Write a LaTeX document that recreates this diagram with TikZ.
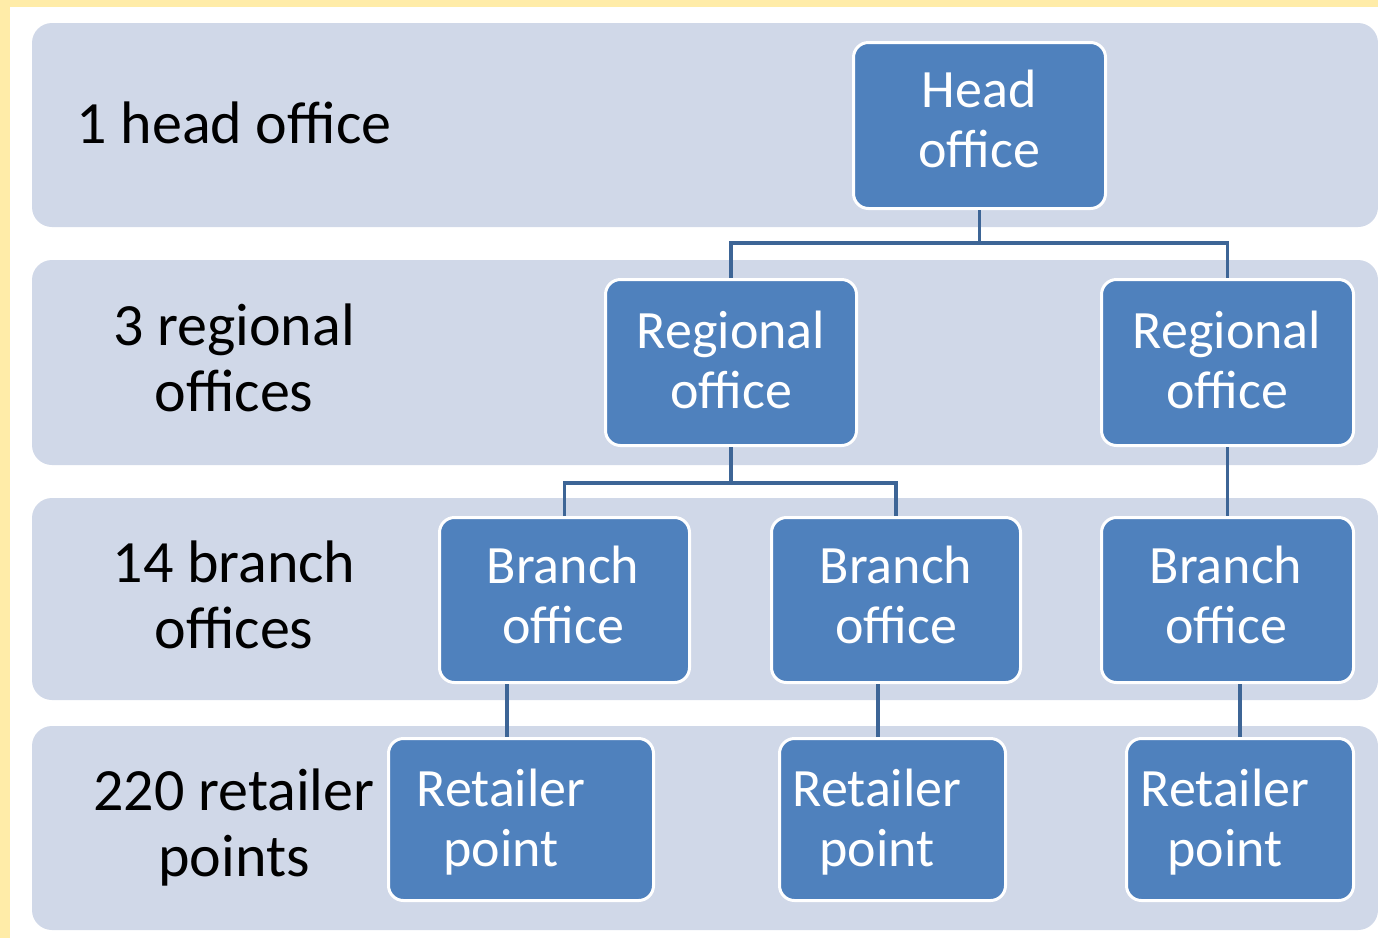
\documentclass[tikz,border=0pt]{standalone}
\usepackage{fontspec}
\setmainfont{Carlito}
\definecolor{framey}{HTML}{FFECA8}
\definecolor{bandc}{HTML}{D0D8E8}
\definecolor{boxblue}{HTML}{4F81BD}
\definecolor{linkblue}{HTML}{3D6596}
\begin{document}
\begin{tikzpicture}[x=1pt,y=-1pt,
  bandbox/.style={fill=bandc, rounded corners=20pt},
  orgbox/.style={draw=white, line width=3pt, fill=boxblue, rounded corners=15pt, inner sep=0pt,
    text=white, align=center, font=\fontsize{54}{60}\selectfont},
  boxtext/.style={text=white, align=center, inner sep=0pt, font=\fontsize{54}{60}\selectfont},
  leveltext/.style={text=black, align=center, inner sep=0pt, font=\fontsize{60}{66}\selectfont},
  link/.style={draw=linkblue, line width=3.5pt}]
\useasboundingbox (0,0) rectangle (1378,938);
\fill[framey] (0,0) rectangle (1378,938);
\fill[white] (10,7) rectangle (1378,938);
% bands
\fill[bandbox] (32,23) rectangle (1378,227);
\fill[bandbox] (32,260) rectangle (1378,465);
\fill[bandbox] (32,498) rectangle (1378,700);
\fill[bandbox] (32,726) rectangle (1378,930);
% level labels
\node[leveltext, anchor=base] (l1) at (234,143) {1 head office};
\node[leveltext] (l2) at (234,358) {3 regional\\offices};
\node[leveltext] (l3) at (234,595) {14 branch\\offices};
\node[leveltext] (l4) at (234,827) {220 retailer\\points};
% boxes
\node[orgbox, minimum width=252pt, minimum height=166pt] (head) at (979.5,125.5) {};
\node[boxtext] (headt) at (979,119) {Head\\office};
\node[orgbox, minimum width=251pt, minimum height=166pt] (reg1) at (731,362.5) {};
\node[boxtext] (reg1t) at (731,360) {Regional\\office};
\node[orgbox, minimum width=252pt, minimum height=166pt] (reg2) at (1227.5,362.5) {};
\node[boxtext] (reg2t) at (1227,360) {Regional\\office};
\node[orgbox, minimum width=250pt, minimum height=165pt] (b1) at (564.5,600) {};
\node[boxtext] (b1t) at (563,595) {Branch\\office};
\node[orgbox, minimum width=249pt, minimum height=165pt] (b2) at (896,600) {};
\node[boxtext] (b2t) at (896,595) {Branch\\office};
\node[orgbox, minimum width=252pt, minimum height=165pt] (b3) at (1227.5,600) {};
\node[boxtext] (b3t) at (1226,595) {Branch\\office};
\node[orgbox, minimum width=265pt, minimum height=162pt] (r1) at (521,819.5) {};
\node[boxtext] (r1t) at (501,822) {Retailer\\point};
\node[orgbox, minimum width=226pt, minimum height=162pt] (r2) at (892.5,819.5) {};
\node[boxtext] (r2t) at (877,822) {Retailer\\point};
\node[orgbox, minimum width=227pt, minimum height=162pt] (r3) at (1240,819.5) {};
\node[boxtext] (r3t) at (1225,822) {Retailer\\point};
% connectors
\coordinate (hj) at (979.5,243);
\coordinate (rj) at (731,483);
\draw[link] (head.south) -- (hj);
\draw[link] (reg1.north) |- (hj) -| (reg2.north);
\draw[link] (reg1.south) -- (rj);
\draw[link] (b1.north) |- (rj) -| (b2.north);
\draw[link] (reg2.south) -- (b3.north);
\draw[link] (507,0 |- b1.south) -- (507,0 |- r1.north);
\draw[link] (878,0 |- b2.south) -- (878,0 |- r2.north);
\draw[link] (1240,0 |- b3.south) -- (r3.north);
\end{tikzpicture}
\end{document}
